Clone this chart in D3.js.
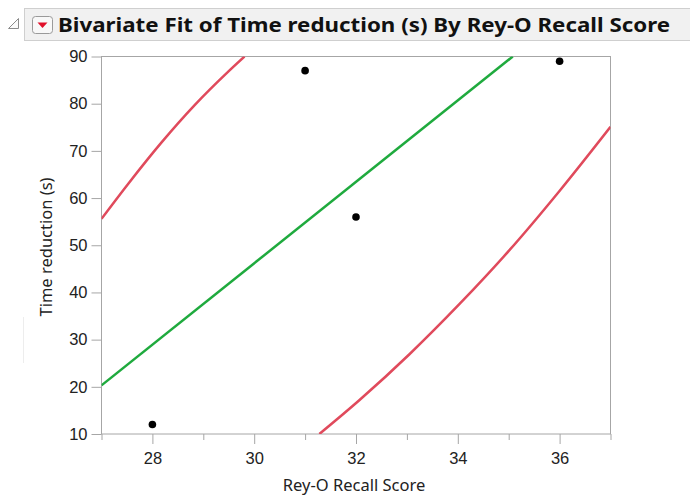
<!DOCTYPE html>
<html>
<head>
<meta charset="utf-8">
<script src="https://cdn.jsdelivr.net/npm/d3@7"></script>
<style>
  body { margin: 0; background: #fff; }
  svg { display: block; font-family: "Segoe UI", "Noto Sans", sans-serif; }
</style>
</head>
<body>
<svg id="chart"></svg>
<script>
// points
const recallScores = [28, 31, 32, 36];
const timeReduction = [12, 87, 56, 89];

// linear fit (green)
const fitX = [27, 35.08];
const fitY = [20.3, 90];

// density ellipse arcs (red)
const upperArcX = [27, 27.53, 28.18, 28.83, 29.49, 29.81];
const upperArcY = [55.6, 63.1, 71.8, 79.7, 86.8, 90];
const lowerArcX = [31.28, 32.07, 33.05, 34.03, 35.01, 35.99, 37];
const lowerArcY = [10, 17.2, 26.9, 37.5, 48.9, 61.4, 75.1];

const xMajorTicks = [28, 30, 32, 34, 36];
const xMinorTicks = [27, 29, 31, 33, 35, 37];
const yTicks = [10, 20, 30, 40, 50, 60, 70, 80, 90];

const title = "Bivariate Fit of Time reduction (s) By Rey-O Recall Score";
const xTitle = "Rey-O Recall Score";
const yTitle = "Time reduction (s)";

const width = 690, height = 496;
const plot = { left: 101.5, right: 610.5, top: 56.5, bottom: 434 };

const svg = d3.select("#chart").attr("width", width).attr("height", height);

// header bar
svg.append("rect")
  .attr("x", 24.5).attr("y", 8.5)
  .attr("width", 680).attr("height", 32)
  .attr("fill", "#f1f1f1").attr("stroke", "#cfcfcf");

// disclosure triangle
svg.append("path")
  .attr("d", "M8.5,28.5 L18.5,18.5 L18.5,28.5 Z")
  .attr("fill", "#fafafa").attr("stroke", "#8a8a8a");

// red menu button
svg.append("rect")
  .attr("x", 32.5).attr("y", 16.5)
  .attr("width", 20).attr("height", 17).attr("rx", 3)
  .attr("fill", "#f8f8f8").attr("stroke", "#9a9a9a");
svg.append("path")
  .attr("d", "M37.5,22.5 L47.5,22.5 L42.5,28 Z")
  .attr("fill", "#e0102a");

svg.append("text")
  .attr("x", 58).attr("y", 32)
  .attr("font-size", 20).attr("font-weight", "bold")
  .attr("fill", "#111")
  .attr("textLength", 612).attr("lengthAdjust", "spacingAndGlyphs")
  .text(title);

// faint splitter mark
svg.append("line")
  .attr("x1", 23.5).attr("x2", 23.5).attr("y1", 317).attr("y2", 363)
  .attr("stroke", "#ededed");

const x = d3.scaleLinear().domain([27, 37]).range([plot.left, plot.right]);
const y = d3.scaleLinear().domain([10, 90]).range([plot.bottom, plot.top]);

const axisColor = "#a6a6a6";

// x axis
const gx = svg.append("g").attr("transform", `translate(0,${plot.bottom})`);
gx.append("g")
  .call(d3.axisBottom(x).tickValues(xMinorTicks).tickSize(6).tickSizeOuter(0).tickFormat(""))
  .call(g => g.select(".domain").remove());
gx.append("g")
  .call(d3.axisBottom(x).tickValues(xMajorTicks).tickSize(10).tickSizeOuter(0))
  .call(g => g.select(".domain").remove())
  .call(g => g.selectAll("text").attr("y", 30).attr("dy", null)
    .attr("font-size", 16.5).attr("fill", "#222").attr("font-family", null));
gx.selectAll("line").attr("stroke", axisColor);

// y axis
const gy = svg.append("g").attr("transform", `translate(${plot.left},0)`);
gy.call(d3.axisLeft(y).tickValues(yTicks).tickSize(10).tickPadding(4).tickSizeOuter(0))
  .call(g => g.select(".domain").remove())
  .call(g => g.selectAll("text").attr("font-size", 16.5).attr("fill", "#222").attr("font-family", null));
gy.selectAll("line").attr("stroke", axisColor);

// frame
svg.append("rect")
  .attr("x", plot.left).attr("y", plot.top)
  .attr("width", plot.right - plot.left).attr("height", plot.bottom - plot.top)
  .attr("fill", "none").attr("stroke", axisColor);

// axis titles
svg.append("text")
  .attr("x", 354).attr("y", 491)
  .attr("text-anchor", "middle").attr("font-size", 16.5).attr("fill", "#222")
  .text(xTitle);
svg.append("text")
  .attr("transform", "translate(52,247) rotate(-90)")
  .attr("text-anchor", "middle").attr("font-size", 16.5).attr("fill", "#222")
  .text(yTitle);

// clip for curves
svg.append("clipPath").attr("id", "plotClip")
  .append("rect")
  .attr("x", plot.left).attr("y", plot.top)
  .attr("width", plot.right - plot.left).attr("height", plot.bottom - plot.top);

const plotArea = svg.append("g").attr("clip-path", "url(#plotClip)");

const line = d3.line().x(d => x(d[0])).y(d => y(d[1])).curve(d3.curveMonotoneX);

const arcs = [d3.zip(upperArcX, upperArcY), d3.zip(lowerArcX, lowerArcY)];
plotArea.selectAll("path.ellipse")
  .data(arcs)
  .join("path")
  .attr("class", "ellipse")
  .attr("fill", "none")
  .attr("stroke", "#e04a5c")
  .attr("stroke-width", 2.5)
  .attr("d", line);

plotArea.append("path")
  .datum(d3.zip(fitX, fitY))
  .attr("fill", "none")
  .attr("stroke", "#1faa3e")
  .attr("stroke-width", 2.5)
  .attr("d", d3.line().x(d => x(d[0])).y(d => y(d[1])));

svg.selectAll("circle.pt")
  .data(d3.zip(recallScores, timeReduction))
  .join("circle")
  .attr("class", "pt")
  .attr("cx", d => x(d[0]))
  .attr("cy", d => y(d[1]))
  .attr("r", 3.8)
  .attr("fill", "#000");
</script>
</body>
</html>
